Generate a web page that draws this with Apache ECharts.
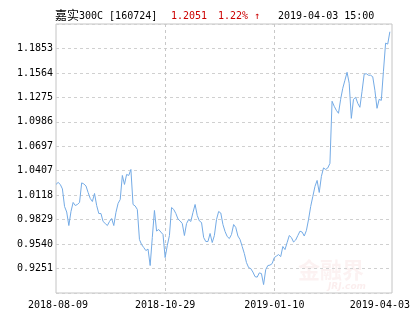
<!DOCTYPE html>
<html>
<head>
<meta charset="utf-8">
<script src="https://cdn.jsdelivr.net/npm/echarts@6/dist/echarts.min.js"></script>
<style>
html,body{margin:0;padding:0;background:#fff;}
#chart{width:415px;height:330px;}
</style>
</head>
<body>
<div id="chart"></div>
<script>
// ---- data ----
const fundName = '嘉实300C';
const fundCode = '[160724]';
const lastPrice = '1.2051';
const changePct = '1.22% ↑';
const quoteTime = '2019-04-03 15:00';

const startDate = '2018-08-09';
const endDate = '2019-04-04';
const holidays = ['2018-09-24','2018-10-01','2018-10-02','2018-10-03','2018-10-04','2018-10-05',
  '2018-12-31','2019-01-01','2019-02-04','2019-02-05','2019-02-06','2019-02-07','2019-02-08'];

const xLabels = ['2018-08-09','2018-10-29','2019-01-10','2019-04-03'];
const yTicks = ['0.9251','0.9540','0.9829','1.0118','1.0407','1.0697','1.0986','1.1275','1.1564','1.1853'];

const navValues = [
1.0246,1.0270,1.0246,1.0193,0.9985,0.9920,0.9760,0.9926,1.0033,0.9997,
1.0009,1.0033,1.0264,1.0252,1.0228,1.0151,1.0080,1.0044,1.0139,0.9997,
0.9902,0.9902,0.9808,0.9784,0.9760,0.9808,0.9843,0.9760,0.9914,1.0021,
1.0068,1.0352,1.0246,1.0364,1.0352,1.0423,1.0009,0.9991,0.9950,0.9594,
0.9535,0.9500,0.9464,0.9482,0.9287,0.9618,0.9938,0.9695,0.9713,0.9683,
0.9654,0.9381,0.9523,0.9642,0.9973,0.9950,0.9902,0.9837,0.9814,0.9784,
0.9642,0.9784,0.9831,0.9808,0.9914,1.0009,0.9879,0.9814,0.9796,0.9618,
0.9571,0.9571,0.9666,0.9559,0.9642,0.9831,0.9926,0.9908,0.9772,0.9689,
0.9630,0.9606,0.9654,0.9772,0.9737,0.9636,0.9594,0.9512,0.9429,0.9322,
0.9263,0.9251,0.9210,0.9156,0.9150,0.9200,0.9192,0.9062,0.9239,0.9287,
0.9292,0.9310,0.9381,0.9399,0.9417,0.9393,0.9512,0.9476,0.9559,0.9642,
0.9618,0.9565,0.9589,0.9642,0.9693,0.9683,0.9636,0.9701,0.9831,0.9985,
1.0104,1.0222,1.0293,1.0151,1.0341,1.0441,1.0423,1.0441,1.0495,1.1229,
1.1170,1.1122,1.1087,1.1252,1.1383,1.1477,1.1572,1.1442,1.1027,1.1252,
1.1276,1.1205,1.1158,1.1347,1.1549,1.1555,1.1537,1.1537,1.1519,1.1359,
1.1146,1.1252,1.1240,1.1584,1.1916,1.1905,1.2051
];

// ---- trading-day categories ----
function tradingDays(s, e, hol) {
  const out = [];
  const d = new Date(s + 'T00:00:00Z');
  const end = new Date(e + 'T00:00:00Z');
  while (d <= end) {
    const wd = d.getUTCDay();
    const str = d.toISOString().slice(0, 10);
    if (wd !== 0 && wd !== 6 && hol.indexOf(str) < 0) out.push(str);
    d.setUTCDate(d.getUTCDate() + 1);
  }
  return out;
}
const dates = tradingDays(startDate, endDate, holidays);

const yNums = yTicks.map(Number);
const yInterval = +((yNums[yNums.length - 1] - yNums[0]) / (yNums.length - 1)).toFixed(6);
const kStart = Math.round(yNums[0] / yInterval) - 1;
const yMin = kStart * yInterval;
const yMax = (kStart + yTicks.length + 1) * yInterval;

const monoFont = '"DejaVu Sans Mono", "Liberation Mono", monospace';
const cjkFont = '"Noto Sans CJK SC", sans-serif';

// split the fund name into its CJK part and its latin part
const nameMatch = fundName.match(/^([^\x00-\x7f]*)(.*)$/);
const nameCjk = nameMatch[1];
const nameLatin = nameMatch[2];

const chart = echarts.init(document.getElementById('chart'), null, {renderer: 'canvas'});

chart.setOption({
  animation: false,
  backgroundColor: '#fff',
  grid: {
    left: 56, right: 23, top: 24, bottom: 37,
    show: true, borderColor: '#c4c4c4', borderWidth: 1, backgroundColor: 'transparent'
  },
  graphic: [
    {type: 'text', left: 55, top: 9, style: {
      text: '{c|' + nameCjk + '}{m|' + nameLatin + ' ' + fundCode + '}',
      rich: {
        c: {font: '12px ' + cjkFont, fill: '#000', verticalAlign: 'bottom'},
        m: {font: '10px ' + monoFont, fill: '#000', verticalAlign: 'bottom'}
      }
    }},
    {type: 'text', left: 171, top: 11, style: {text: lastPrice, font: '10px ' + monoFont, fill: '#cc0000'}},
    {type: 'text', left: 218, top: 11, style: {text: changePct, font: '10px ' + monoFont, fill: '#cc0000'}},
    {type: 'text', left: 278, top: 11, style: {text: quoteTime, font: '10px ' + monoFont, fill: '#000'}},
    {type: 'text', left: 298, top: 259, z: 0, style: {text: '金融界', font: 'bold 22px ' + cjkFont, fill: 'rgba(215,70,70,0.07)'}},
    {type: 'text', left: 328, top: 282, z: 0, style: {text: 'JRJ.com', font: 'italic bold 9px "DejaVu Sans", sans-serif', fill: 'rgba(215,70,70,0.09)'}}
  ],
  xAxis: {
    type: 'category',
    data: dates,
    boundaryGap: false,
    axisLine: {show: false},
    axisTick: {show: false},
    axisLabel: {
      interval: (i, v) => xLabels.indexOf(v) >= 0,
      margin: 7,
      color: '#000',
      fontFamily: monoFont,
      fontSize: 10,
      formatter: (v) => v === xLabels[xLabels.length - 1] ? '{r|' + v + '}' : (v === xLabels[0] ? '{l|' + v + '}' : v),
      rich: {
        r: {padding: [0, 20, 0, 0], fontFamily: monoFont, fontSize: 10, color: '#000'},
        l: {padding: [0, 0, 0, 4], fontFamily: monoFont, fontSize: 10, color: '#000'}
      }
    },
    splitLine: {
      show: true,
      interval: (i, v) => xLabels.indexOf(v) > 0 && xLabels.indexOf(v) < xLabels.length - 1,
      lineStyle: {color: '#c8c8c8', type: [3, 3], width: 1}
    }
  },
  yAxis: {
    type: 'value',
    min: yMin,
    max: yMax,
    interval: yInterval,
    axisLine: {show: false},
    axisTick: {show: false},
    axisLabel: {
      showMinLabel: false,
      showMaxLabel: false,
      margin: 3,
      color: '#000',
      fontFamily: monoFont,
      fontSize: 10,
      formatter: (val) => {
        let best = '', bd = 1;
        yTicks.forEach(t => { const d = Math.abs(Number(t) - val); if (d < bd) { bd = d; best = t; } });
        return bd < yInterval / 3 ? best : '';
      }
    },
    splitLine: {show: true, lineStyle: {color: '#d0d0d0', type: [3, 3], width: 1}}
  },
  series: [{
    type: 'line',
    data: navValues,
    symbol: 'none',
    smooth: false,
    lineStyle: {color: '#74abe6', width: 1},
    z: 3
  }]
});
</script>
</body>
</html>
